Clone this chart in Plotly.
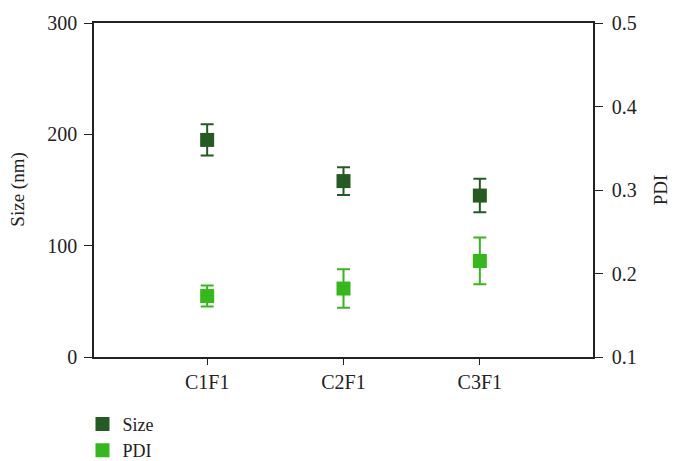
import plotly.graph_objects as go

categories = ["C1F1", "C2F1", "C3F1"]
size_vals = [195, 158, 145]
size_err = [14, 12.5, 15]
pdi_vals = [0.173, 0.182, 0.215]
pdi_err = [0.0125, 0.023, 0.028]

dark = "#235B23"
bright = "#34B81B"
font_family = "Liberation Serif"

x_idx = list(range(len(categories)))

fig = go.Figure()
fig.add_trace(go.Scatter(
    x=x_idx, y=size_vals, mode="markers", name="Size",
    marker=dict(symbol="square", size=14, color=dark),
    error_y=dict(type="data", array=size_err, color=dark, thickness=2, width=6.5),
    yaxis="y",
))
fig.add_trace(go.Scatter(
    x=x_idx, y=pdi_vals, mode="markers", name="PDI",
    marker=dict(symbol="square", size=14, color=bright),
    error_y=dict(type="data", array=pdi_err, color=bright, thickness=2, width=6.5),
    yaxis="y2",
))

axis_common = dict(showgrid=False, zeroline=False, showline=True, linecolor="#222",
                   linewidth=1.5, ticks="outside", tickcolor="#222",
                   tickfont=dict(family=font_family, size=20, color="#222"))

fig.update_layout(
    width=674, height=461,
    margin=dict(l=94, r=81, t=23, b=104, autoexpand=False),
    paper_bgcolor="white", plot_bgcolor="white",
    font=dict(family=font_family, size=19, color="#222"),
    xaxis=dict(**axis_common, range=[-0.83, 2.83], tickvals=x_idx, ticktext=categories,
               ticklen=6, mirror=True),
    yaxis=dict(**axis_common, range=[0, 300], tickvals=[0, 100, 200, 300], ticklen=8,
               ticklabelstandoff=3),
    yaxis2=dict(**axis_common, range=[0.1, 0.5], tickvals=[0.1, 0.2, 0.3, 0.4, 0.5],
                tickformat=".1f", ticklen=8, overlaying="y", side="right",
                ticklabelstandoff=5),
    annotations=[
        dict(text="Size (nm)", xref="paper", yref="paper", x=-0.153, y=0.5,
             xanchor="center", yanchor="middle", textangle=-90, showarrow=False,
             font=dict(family=font_family, size=19, color="#222")),
        dict(text="PDI", xref="paper", yref="paper", x=1.135, y=0.5,
             xanchor="center", yanchor="middle", textangle=-90, showarrow=False,
             font=dict(family=font_family, size=19, color="#222")),
    ],
    showlegend=True,
    legend=dict(x=0.1224, y=0.12, xref="container", yref="container",
                xanchor="left", yanchor="top", orientation="v",
                font=dict(family=font_family, size=18), tracegroupgap=0,
                bgcolor="rgba(0,0,0,0)"),
)

fig.write_html("out.html")
